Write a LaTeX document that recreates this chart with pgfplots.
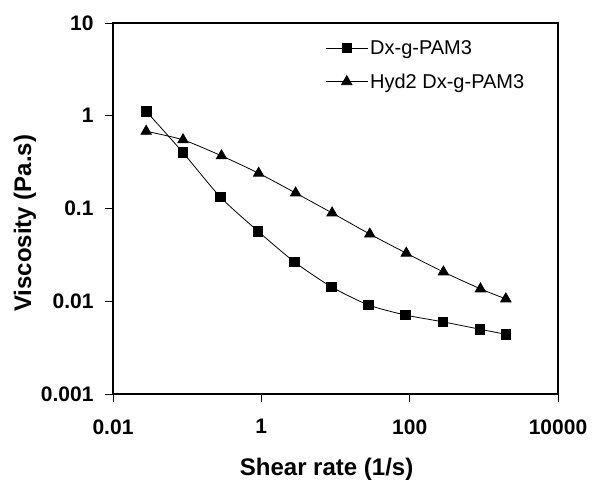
\documentclass[border=0pt]{standalone}
\usepackage{pgfplots}
\pgfplotsset{compat=1.18}
\usepackage{fontspec}
\setmainfont{Liberation Sans}
\begin{document}
\begin{tikzpicture}
\begin{axis}[
    scale only axis,
    width=445pt, height=371pt,
    xmode=log, ymode=log,
    xmin=0.01, xmax=10000,
    ymin=0.001, ymax=10,
    xtick={0.01,1,100,10000},
    xticklabels={0.01,1,100,10000},
    ytick={0.001,0.01,0.1,1,10},
    yticklabels={0.001,0.01,0.1,1,10},
    xminorticks=false, yminorticks=false,
    xtick pos=bottom, ytick pos=left,
    tick align=outside,
    major tick length=8pt,
    tick style={black, line width=0.9pt},
    axis line style={black, line width=1.2pt},
    ticklabel style={font=\fontsize{21}{24}\selectfont\bfseries},
    yticklabel style={xshift=-8pt},
    xticklabel style={yshift=-14pt},
    xlabel={Shear rate (1/s)},
    ylabel={Viscosity (Pa.s)},
    label style={font=\fontsize{24}{28}\selectfont\bfseries},
    xlabel style={at={(axis description cs:0.48,0)}, anchor=base, yshift=-81pt},
    ylabel style={at={(axis description cs:-0.198,0.46)}, anchor=center},
    legend style={draw=none, fill=none, at={(rel axis cs:0.47,0.965)}, anchor=north west,
        font=\fontsize{20}{24}\selectfont, row sep=14pt},
    legend cell align=left,
    legend image code/.code={
        \draw[mark repeat=2, mark phase=2] plot coordinates {(0pt,0pt) (21pt,0pt) (42pt,0pt)};
    },
]
\addplot[black, line width=0.8pt, smooth, tension=0.4,
    mark=square*, mark size=4.8pt, mark options={solid}]
coordinates{(0.028,1.12)(0.088,0.40)(0.28,0.133)(0.9,0.057)(2.8,0.0265)(8.8,0.0143)(28,0.0091)(88,0.0071)(280,0.0060)(880,0.0050)(1980,0.0044)};
\addplot[black, line width=0.8pt, smooth, tension=0.4,
    mark=triangle*, mark size=6pt, mark options={solid}]
coordinates{(0.028,0.68)(0.088,0.55)(0.29,0.37)(0.92,0.24)(2.9,0.147)(9.0,0.0895)(29,0.053)(90,0.033)(285,0.0207)(900,0.0136)(1980,0.0106)};
\legend{Dx-g-PAM3, Hyd2 Dx-g-PAM3}
\end{axis}
\path (current axis.south west) ++(-113pt,-86pt) rectangle ++(593pt,480pt);
\end{tikzpicture}
\end{document}
